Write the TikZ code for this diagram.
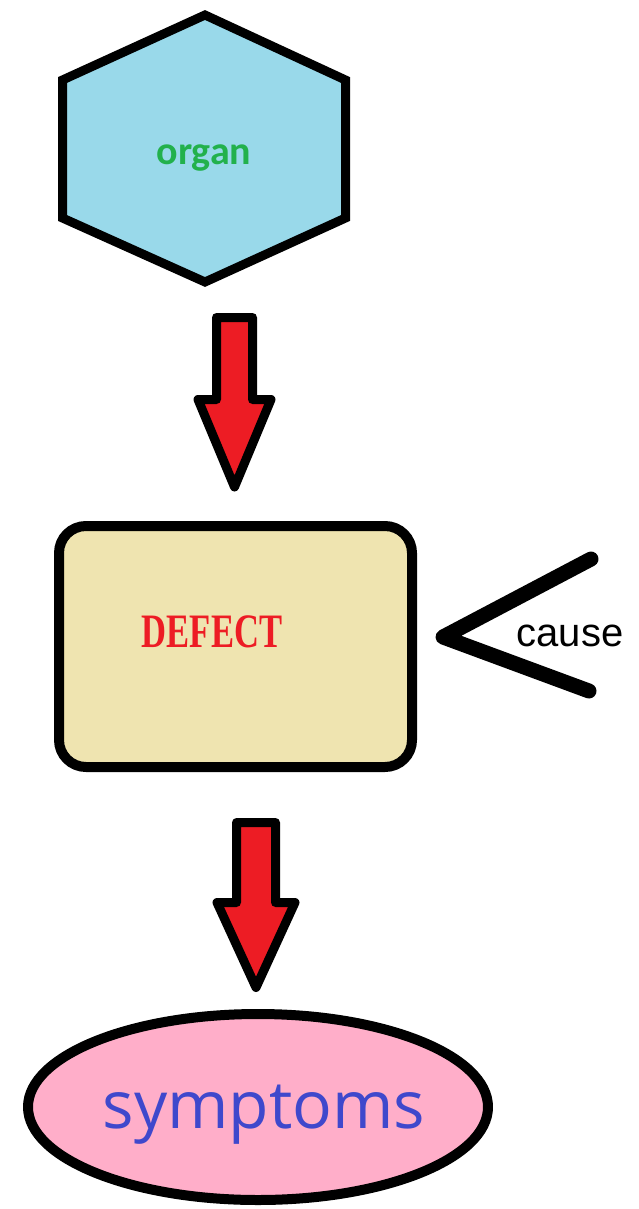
\documentclass[tikz,border=0pt]{standalone}
\usepackage{fontspec}
\usepackage{graphicx}
\newfontfamily\organfont{Carlito}
\newfontfamily\defectfont{Liberation Serif}
\newfontfamily\causefont{Liberation Sans}
\newfontfamily\sympfont{Open Sans}
\definecolor{paintturq}{RGB}{153,217,234}
\definecolor{paintcream}{RGB}{239,228,176}
\definecolor{paintrose}{RGB}{255,174,201}
\definecolor{paintred}{RGB}{237,28,36}
\definecolor{paintgreen}{RGB}{34,177,76}
\definecolor{paintindigo}{RGB}{63,72,204}
\tikzset{
  outline/.style={draw=black, line width=9pt, line join=round},
  blockarrow/.style={outline, fill=paintred},
  label/.style={inner sep=0pt, anchor=base}
}
\begin{document}
\begin{tikzpicture}[x=1pt, y=-1pt]
  \fill[white] (0, 0) rectangle (638, 1209);
  \useasboundingbox (0, 0) rectangle (638, 1209);
  % organ
  \draw[outline, fill=paintturq, line join=miter] (205, 15) -- (345.5, 80) -- (345.5, 218) -- (205, 282) -- (62.5, 218) -- (62.5, 80) -- cycle;
  \node[label, text=paintgreen] (organ) at (204, 165) {\organfont\bfseries\fontsize{40}{48}\selectfont organ};
  % first arrow
  \coordinate (arrA) at (234.5, 317.5);
  \draw[blockarrow] (arrA) ++(-18, 0) -- ++(36, 0) -- ++(0, 82) -- ++(18.5, 0) -- (234.5, 487) -- (198, 399.5) -- (216.5, 399.5) -- cycle;
  % defect
  \draw[outline, line width=10pt, fill=paintcream, rounded corners=27pt] (59, 526) rectangle (412, 767);
  \node[label, text=paintred] (defect) at (212, 647) {\scalebox{0.72}[1]{\defectfont\bfseries\fontsize{48}{56}\selectfont DEFECT}};
  % cause
  \draw[line width=15pt, line cap=round, line join=round] (591, 559) -- (443, 637) -- (589, 691);
  \node[label] (cause) at (570, 646) {\causefont\fontsize{40}{48}\selectfont cause};
  % second arrow
  \coordinate (arrB) at (256, 822.5);
  \draw[blockarrow] (arrB) ++(-19.5, 0) -- ++(39, 0) -- ++(0, 80) -- ++(19.5, 0) -- (256, 987.5) -- (217, 902.5) -- (236.5, 902.5) -- cycle;
  % symptoms
  \draw[outline, line width=10pt, fill=paintrose] (258, 1107) ellipse [x radius=230pt, y radius=93pt];
  \node[label, text=paintindigo] (symptoms) at (264, 1128) {\sympfont\fontsize{66}{78}\selectfont symptoms};
\end{tikzpicture}
\end{document}
